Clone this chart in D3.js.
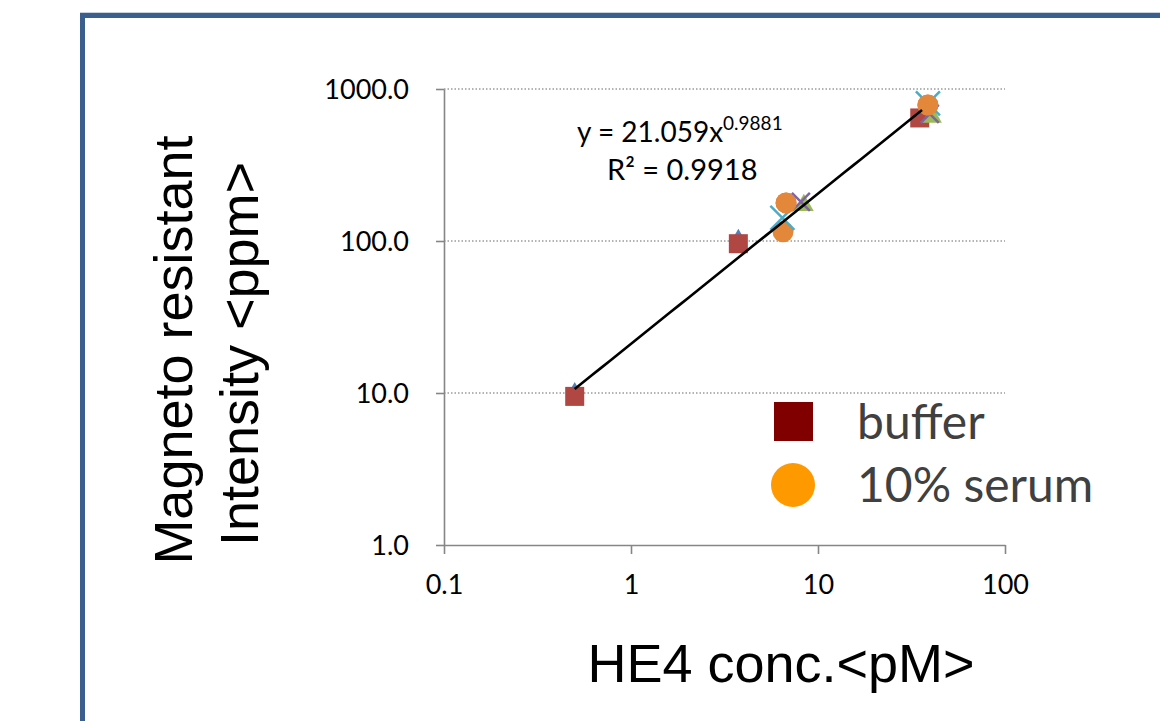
<!DOCTYPE html>
<html>
<head>
<meta charset="utf-8">
<script src="https://cdn.jsdelivr.net/npm/d3@7/dist/d3.min.js"></script>
<style>
  html, body { margin: 0; padding: 0; background: #fff; }
  svg { display: block; }
</style>
</head>
<body>
<svg id="chart" width="1160" height="721"></svg>
<script>
// HE4 concentration (pM) vs magneto-resistant intensity (ppm)
const xTicks = [0.1, 1, 10, 100];
const yTicks = [1, 10, 100, 1000];

const bufferX = [0.5, 3.75, 35];
const bufferY = [9.5, 96, 645];

const serumX = [6.75, 6.5, 38.7];
const serumY = [178, 115, 785];

const diamondX = [0.5, 3.75];
const diamondY = [10.6, 108];

const crossBlueX = [6.45, 38.7];
const crossBlueY = [142, 805];

const triangleX = [8.4, 40.7];
const triangleY = [172, 654];

const crossPurpleX = [8.1, 39.6];
const crossPurpleY = [181, 685];

// power-law fit: y = a * x^b
const fitA = 21.059, fitB = 0.9881;
const fitRange = [0.5, 36];

const legendLabels = ["buffer", "10% serum"];

const svg = d3.select("#chart");

// outer frame
svg.append("line").attr("x1", 80).attr("x2", 1160).attr("y1", 12.5).attr("y2", 12.5)
  .attr("stroke", "#c9d3df").attr("stroke-width", 1);
svg.append("path").attr("d", "M82.5,721 V15.5 H1160")
  .attr("fill", "none").attr("stroke", "#3a5f8c").attr("stroke-width", 5);

const x = d3.scaleLog().domain([0.1, 100]).range([444, 1005]);
const y = d3.scaleLog().domain([1, 1000]).range([545, 89]);

// gridlines
svg.append("g").selectAll("line").data(yTicks.slice(1)).join("line")
  .attr("x1", x(0.1)).attr("x2", x(100))
  .attr("y1", d => y(d)).attr("y2", d => y(d))
  .attr("stroke", "#9a9a9a").attr("stroke-width", 1.5)
  .attr("stroke-dasharray", "1.5,2");

// axes
const fmtY = d3.format(".1f");
const xAxis = svg.append("g").attr("transform", `translate(0,${y(1)})`)
  .call(d3.axisBottom(x).tickValues(xTicks).tickFormat(d => String(d)).tickSize(9).tickSizeOuter(0).tickPadding(21));
const yAxis = svg.append("g").attr("transform", `translate(${x(0.1)},0)`)
  .call(d3.axisLeft(y).tickValues(yTicks).tickFormat(fmtY).tickSize(8).tickSizeOuter(0).tickPadding(27));

[xAxis, yAxis].forEach(g => {
  g.select(".domain").attr("stroke", "#868686").attr("stroke-width", 1.6);
  g.selectAll(".tick line").attr("stroke", "#868686").attr("stroke-width", 1.6);
  g.selectAll(".tick text").attr("fill", "#000").attr("font-family", "Lato, 'Open Sans', sans-serif")
    .attr("font-size", 27);
});
xAxis.selectAll(".tick text").attr("dy", "0.71em");
yAxis.selectAll(".tick text").attr("dy", "0.35em");

// markers
const plot = svg.append("g");

plot.selectAll(".diamond").data(d3.zip(diamondX, diamondY)).join("path")
  .attr("d", d3.symbol(d3.symbolDiamond, 60))
  .attr("transform", d => `translate(${x(d[0])},${y(d[1])})`)
  .attr("fill", "#4f81bd");

plot.selectAll(".sq").data(d3.zip(bufferX, bufferY)).join("rect")
  .attr("x", d => x(d[0]) - 9.5).attr("y", d => y(d[1]) - 9.5)
  .attr("width", 19).attr("height", 19)
  .attr("fill", "#b04743");

plot.selectAll(".circ").data(d3.zip(serumX, serumY)).join("circle")
  .attr("cx", d => x(d[0])).attr("cy", d => y(d[1])).attr("r", 10.5)
  .attr("fill", "#e3873b");

plot.selectAll(".tri").data(d3.zip(triangleX, triangleY)).join("path")
  .attr("d", d3.symbol(d3.symbolTriangle, 170))
  .attr("transform", d => `translate(${x(d[0])},${y(d[1])})`)
  .attr("fill", "#9bbb59");

function cross(sel, data, half, color) {
  const g = sel.selectAll(null).data(data).join("g")
    .attr("transform", d => `translate(${x(d[0])},${y(d[1])})`);
  g.append("path").attr("d", `M${-half},${-half}L${half},${half}M${-half},${half}L${half},${-half}`)
    .attr("stroke", color).attr("stroke-width", 2.5).attr("fill", "none");
}
cross(plot, d3.zip(crossPurpleX, crossPurpleY), 9, "#8064a2");
cross(plot, d3.zip(crossBlueX, crossBlueY), 12, "#4bacc6");

// serum circles sit over the cross in the upper cluster
plot.append("circle").attr("cx", x(serumX[2])).attr("cy", y(serumY[2])).attr("r", 10.5).attr("fill", "#e3873b");
plot.append("circle").attr("cx", x(serumX[0])).attr("cy", y(serumY[0])).attr("r", 10.5).attr("fill", "#e3873b");

// trendline
const fitPts = d3.range(0, 41).map(i => {
  const xv = fitRange[0] * Math.pow(fitRange[1] / fitRange[0], i / 40);
  return [xv, fitA * Math.pow(xv, fitB)];
});
svg.append("path").datum(fitPts)
  .attr("d", d3.line().x(d => x(d[0])).y(d => y(d[1])))
  .attr("fill", "none").attr("stroke", "#000").attr("stroke-width", 2.6);

// equation
const eq = svg.append("text").attr("x", 577).attr("y", 142)
  .attr("font-family", "Lato, 'Open Sans', sans-serif").attr("font-size", 28).attr("fill", "#000");
eq.append("tspan").text(`y = ${fitA}x`);
eq.append("tspan").attr("font-size", 19).attr("dy", -12).text(String(fitB));
const r2 = svg.append("text").attr("x", 607).attr("y", 180)
  .attr("font-family", "Lato, 'Open Sans', sans-serif").attr("font-size", 29).attr("fill", "#000");
r2.text("R² = 0.9918");

// axis titles
const titleFont = "'Liberation Sans', Arial, sans-serif";
svg.append("text").attr("transform", "translate(192,350) rotate(-90)")
  .attr("text-anchor", "middle").attr("font-family", titleFont).attr("font-size", 54)
  .attr("fill", "#000").text("Magneto resistant");
svg.append("text").attr("transform", "translate(258,354) rotate(-90)")
  .attr("text-anchor", "middle").attr("font-family", titleFont).attr("font-size", 54)
  .attr("fill", "#000").text("Intensity <ppm>");
svg.append("text").attr("x", 781).attr("y", 682)
  .attr("text-anchor", "middle").attr("font-family", titleFont).attr("font-size", 54)
  .attr("fill", "#000").text("HE4 conc.<pM>");

// legend
const leg = svg.append("g");
leg.append("rect").attr("x", 774).attr("y", 402).attr("width", 39).attr("height", 39).attr("fill", "#800000");
leg.append("circle").attr("cx", 793).attr("cy", 485).attr("r", 22).attr("fill", "#ff9900");
leg.selectAll("text").data(legendLabels).join("text")
  .attr("x", 857).attr("y", (d, i) => 439 + i * 63)
  .attr("font-family", "Lato, 'Open Sans', sans-serif").attr("font-size", 48)
  .attr("fill", "#404040").text(d => d);
</script>
</body>
</html>
